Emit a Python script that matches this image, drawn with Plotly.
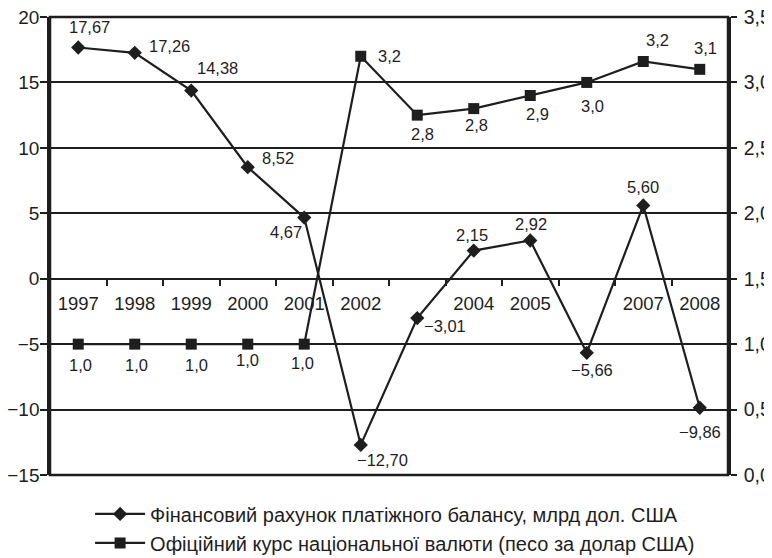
import plotly.graph_objects as go

years = ["1997", "1998", "1999", "2000", "2001", "2002", "2003", "2004", "2005", "2006", "2007", "2008"]
year_labels = ["1997", "1998", "1999", "2000", "2001", "2002", "", "2004", "2005", "", "2007", "2008"]
finance = [17.67, 17.26, 14.38, 8.52, 4.67, -12.70, -3.01, 2.15, 2.92, -5.66, 5.60, -9.86]
rate = [1.0, 1.0, 1.0, 1.0, 1.0, 3.2, 2.75, 2.8, 2.9, 3.0, 3.16, 3.1]

name_fin = "Фінансовий рахунок платіжного балансу, млрд дол. США"
name_rate = "Офіційний курс національної валюти (песо за долар США)"

# label offsets in pixels (dx right, dy down) relative to each point
fin_dx = [11, 35, 26, 30, -18, 22, 28, -2, 1, 5, 0, 0]
fin_dy = [-20, -7, -23, -9, 14, 15, 8, -16, -17, 17, -18, 24]
rate_dx = [2, 2, 5, 0, -2, 29, 5, 3, 7, 6, 14, 6]
rate_dy = [21, 21, 21, 16, 19, 0, 19, 16, 18, 24, -21, -21]


def fmt(v, d):
    return f"{v:.{d}f}".replace(".", ",").replace("-", "\u2212")


INK = "#1e1e1e"
FONT = "Liberation Sans, Arial, sans-serif"
LBL = dict(size=16.5, color=INK, family=FONT)

fig = go.Figure()
fig.add_trace(go.Scatter(
    x=years, y=finance, name=name_fin, mode="lines+markers",
    line=dict(color=INK, width=2.2),
    marker=dict(symbol="diamond", size=11, color=INK),
    cliponaxis=False,
))
fig.add_trace(go.Scatter(
    x=years, y=rate, name=name_rate, mode="lines+markers", yaxis="y2",
    line=dict(color=INK, width=2.2),
    marker=dict(symbol="square", size=11, color=INK),
    cliponaxis=False,
))

annotations = []
for i, (v, dx, dy) in enumerate(zip(finance, fin_dx, fin_dy)):
    annotations.append(dict(x=i, y=v, xref="x", yref="y", text=fmt(v, 2), showarrow=False,
                            xshift=dx, yshift=-dy, font=LBL, xanchor="center", yanchor="middle"))
for i, (v, dx, dy) in enumerate(zip(rate, rate_dx, rate_dy)):
    annotations.append(dict(x=i, y=v, xref="x", yref="y2", text=fmt(v, 1), showarrow=False,
                            xshift=dx, yshift=-dy, font=LBL, xanchor="center", yanchor="middle"))

fig.update_layout(
    width=764, height=550,
    margin=dict(l=42, r=44, t=9, b=82.5, autoexpand=False),
    paper_bgcolor="white", plot_bgcolor="white",
    font=dict(family=FONT, size=18, color=INK),
    separators=", ",
    showlegend=True,
    legend=dict(orientation="v", x=0.509, xanchor="center", y=-0.0425, yanchor="top",
                font=dict(size=20, color=INK), itemwidth=50),
    annotations=annotations,
    xaxis=dict(
        type="category", categoryorder="array", categoryarray=years,
        tickmode="array", tickvals=years, ticktext=year_labels,
        tickson="boundaries", ticks="outside", ticklen=6, tickwidth=2, tickcolor=INK,
        anchor="free", position=15 / 35, showgrid=False, showline=False, zeroline=False,
        range=[-0.5, 11.5], ticklabelstandoff=12,
        tickfont=dict(size=18.5, color=INK),
    ),
    yaxis=dict(
        range=[-15, 20], dtick=5, tick0=0, showgrid=True, gridcolor=INK, gridwidth=2,
        zeroline=False, showline=True, linecolor=INK, linewidth=2.5,
        ticks="outside", ticklen=7, tickwidth=2, tickcolor=INK,
        ticklabeloverflow="allow", ticklabelstandoff=-3,
        tickfont=dict(size=19, color=INK),
    ),
    yaxis2=dict(
        range=[0, 3.5], dtick=0.5, tick0=0, overlaying="y", side="right",
        showgrid=False, zeroline=False, showline=True, linecolor=INK, linewidth=2.5,
        ticks="outside", ticklen=6, tickwidth=2, tickcolor=INK, tickformat=".1f",
        ticklabeloverflow="allow", ticklabelstandoff=3,
        tickfont=dict(size=19.5, color=INK),
    ),
    shapes=[dict(type="rect", xref="paper", yref="paper", x0=0, x1=1, y0=0, y1=1,
                 line=dict(color=INK, width=2.5), layer="above")],
)

fig.write_html("out.html")
